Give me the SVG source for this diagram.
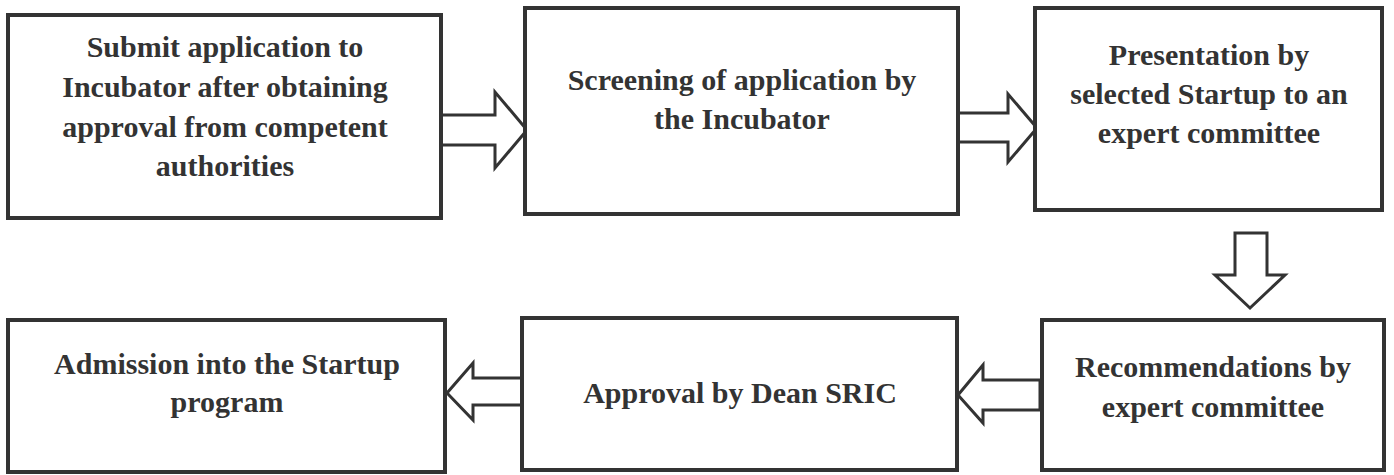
<svg xmlns="http://www.w3.org/2000/svg" width="1394" height="475" viewBox="0 0 1394 475">
  <style>
    .box { fill: #ffffff; stroke: #333333; stroke-width: 4; }
    .arrow { fill: #ffffff; stroke: #333333; stroke-width: 3; stroke-linejoin: miter; }
    .label { font-family: "Liberation Serif", "Times New Roman", serif; font-weight: bold; font-size: 30px; fill: #333333; text-anchor: middle; }
  </style>
  <rect width="1394" height="475" fill="#ffffff"/>

  <!-- block arrows between steps -->
  <g id="connectors">
    <polygon class="arrow" points="441,115 495,115 495,92 527,130 495,168 495,145 441,145"/>
    <polygon class="arrow" points="958,113 1008,113 1008,94 1037,128 1008,162 1008,142 958,142"/>
    <polygon class="arrow" points="1235,233 1267,233 1267,275 1285,275 1250,308 1215,275 1235,275"/>
    <polygon class="arrow" points="524,378 473,378 473,363 447,393 473,420 473,405 524,405"/>
    <polygon class="arrow" points="1040,380 983,380 983,365 958,395 983,423 983,410 1040,410"/>
  </g>

  <g id="submit">
    <rect class="box" x="8" y="15" width="433" height="203"/>
    <text class="label" x="225" y="57">Submit application to</text>
    <text class="label" x="225" y="97">Incubator after obtaining</text>
    <text class="label" x="225" y="137">approval from competent</text>
    <text class="label" x="225" y="176">authorities</text>
  </g>

  <g id="screening">
    <rect class="box" x="525" y="8" width="433" height="206"/>
    <text class="label" x="742" y="90">Screening of application by</text>
    <text class="label" x="742" y="129">the Incubator</text>
  </g>

  <g id="presentation">
    <rect class="box" x="1035" y="8" width="347" height="202"/>
    <text class="label" x="1209" y="65">Presentation by</text>
    <text class="label" x="1209" y="104">selected Startup to an</text>
    <text class="label" x="1209" y="143">expert committee</text>
  </g>

  <g id="recommendations">
    <rect class="box" x="1042" y="320" width="342" height="150"/>
    <text class="label" x="1213" y="377">Recommendations by</text>
    <text class="label" x="1213" y="417">expert committee</text>
  </g>

  <g id="approval">
    <rect class="box" x="522" y="318" width="435" height="152"/>
    <text class="label" x="740" y="403">Approval by Dean SRIC</text>
  </g>

  <g id="admission">
    <rect class="box" x="8" y="320" width="437" height="152"/>
    <text class="label" x="227" y="374">Admission into the Startup</text>
    <text class="label" x="227" y="412">program</text>
  </g>
</svg>
